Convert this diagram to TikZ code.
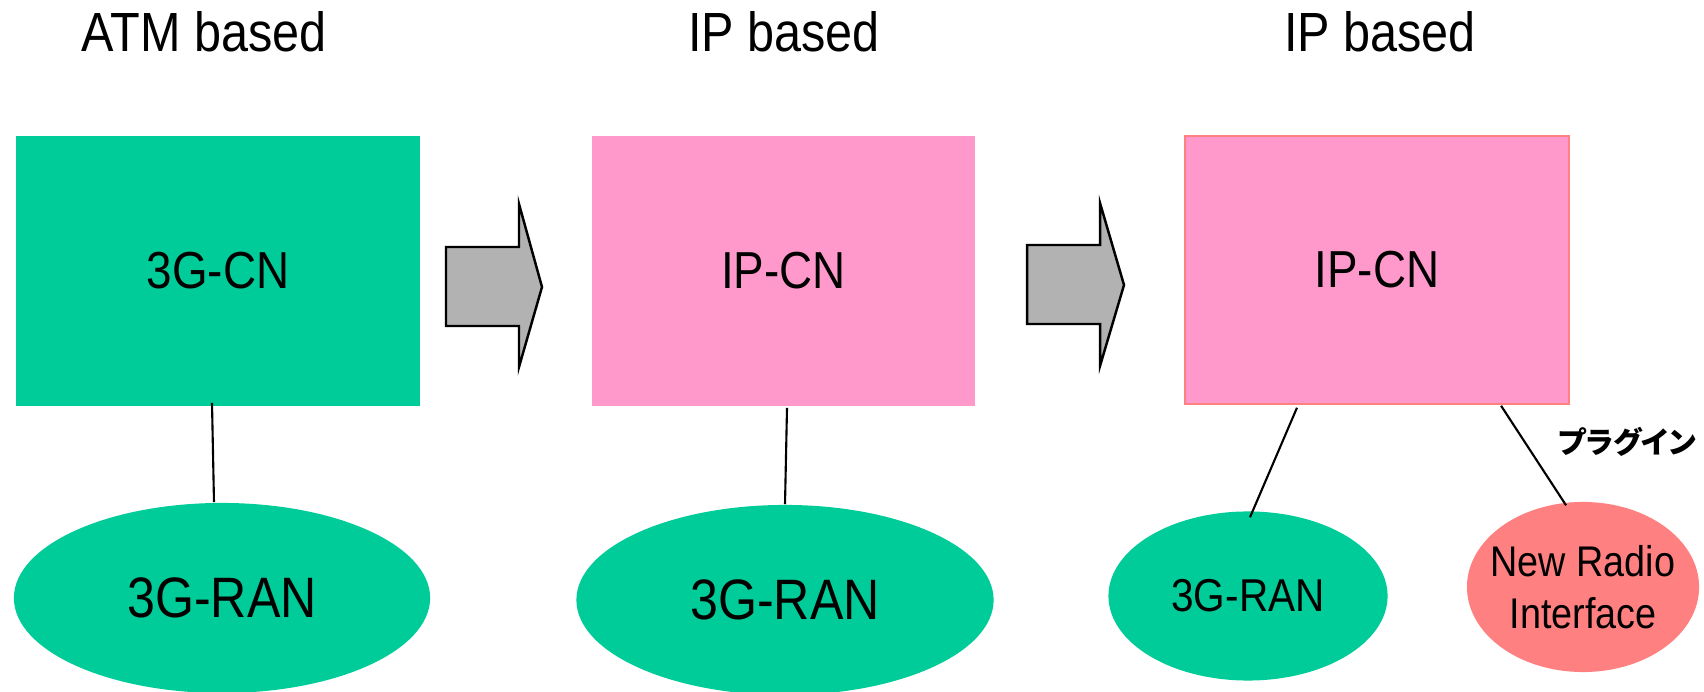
\documentclass[tikz,border=0pt]{standalone}
\usepackage{fontspec}
\setmainfont{Liberation Sans}
\newfontfamily\narrowfont[FakeStretch=0.88]{Liberation Sans}
\newfontfamily\jpfont[RawFeature=+palt]{Noto Sans CJK JP}
\usetikzlibrary{shapes.geometric}

\definecolor{rangreen}{HTML}{00CC99}
\definecolor{cnpink}{HTML}{FF99CC}
\definecolor{nrsalmon}{HTML}{FF8080}
\definecolor{arrowgray}{HTML}{B2B2B2}

\tikzset{
    coltitle/.style={font=\narrowfont\fontsize{15.7}{18}\selectfont, anchor=base},
    corenet/.style={rectangle, inner sep=0pt, font=\narrowfont\fontsize{14.8}{17}\selectfont},
    radionet/.style={ellipse, inner sep=0pt},
    link/.style={line width=0.6pt},
    blockarrow/.style={draw, fill=arrowgray, line width=0.7pt, line join=miter},
}

\begin{document}
\begin{tikzpicture}[x=0.01cm, y=-0.01cm]
    \useasboundingbox (0,0) rectangle (1704,692);

    % column titles
    \node[coltitle] (ttlA) at (204,52) {ATM based};
    \node[coltitle] (ttlB) at (784,52) {IP based};
    \node[coltitle] (ttlC) at (1380,52) {IP based};

    % core networks
    \node[corenet, fill=rangreen, minimum width=4.04cm, minimum height=2.7cm] (cnA) at (218,271) {3G-CN};
    \node[corenet, fill=cnpink, minimum width=3.83cm, minimum height=2.7cm] (cnB) at (783.5,271) {IP-CN};
    \node[corenet, fill=cnpink, draw=nrsalmon, line width=0.4pt, minimum width=3.84cm, minimum height=2.68cm] (cnC) at (1377,270) {IP-CN};

    % radio access networks
    \node[radionet, fill=rangreen, minimum width=4.16cm, minimum height=1.9cm,
          font=\narrowfont\fontsize{16.2}{19}\selectfont] (ranA) at (222,598) {3G-RAN};
    \node[radionet, fill=rangreen, minimum width=4.17cm, minimum height=1.9cm,
          font=\narrowfont\fontsize{16.2}{19}\selectfont] (ranB) at (785,600) {3G-RAN};
    \node[radionet, fill=rangreen, minimum width=2.79cm, minimum height=1.69cm,
          font=\narrowfont\fontsize{13.1}{15}\selectfont] (ranC) at (1248,596) {3G-RAN};
    \node[radionet, fill=nrsalmon, inner xsep=-0.15cm, minimum width=2.32cm, minimum height=1.7cm, align=center,
          font=\narrowfont\fontsize{12.2}{14.8}\selectfont] (nri) at (1583,587) {New Radio\\Interface};

    % plug-in label
    \node[font=\jpfont\bfseries\fontsize{8.5}{10}\selectfont] (plugin) at (1627,442) {プラグイン};

    % migration arrows
    \draw[blockarrow] (446,247) -- (519,247) -- (519,204) -- (542,287) -- (519,367) -- (519,326) -- (446,326) -- cycle;
    \draw[blockarrow] (1027,245) -- (1100,245) -- (1100,203) -- (1124,285) -- (1100,366) -- (1100,324) -- (1027,324) -- cycle;

    % links
    \draw[link] ([xshift=-0.06cm, yshift=0.04cm]cnA.south) -- ([xshift=-0.08cm]ranA.north);
    \draw[link] ([xshift=0.035cm, yshift=-0.01cm]cnB.south) -- (ranB.north);
    \draw[link] ([xshift=-0.8cm, yshift=-0.03cm]cnC.south) -- ([xshift=0.02cm, yshift=-0.065cm]ranC.north);
    \draw[link] ([xshift=1.24cm, yshift=-0.01cm]cnC.south) -- ([xshift=-0.17cm, yshift=-0.04cm]nri.north);
\end{tikzpicture}
\end{document}
